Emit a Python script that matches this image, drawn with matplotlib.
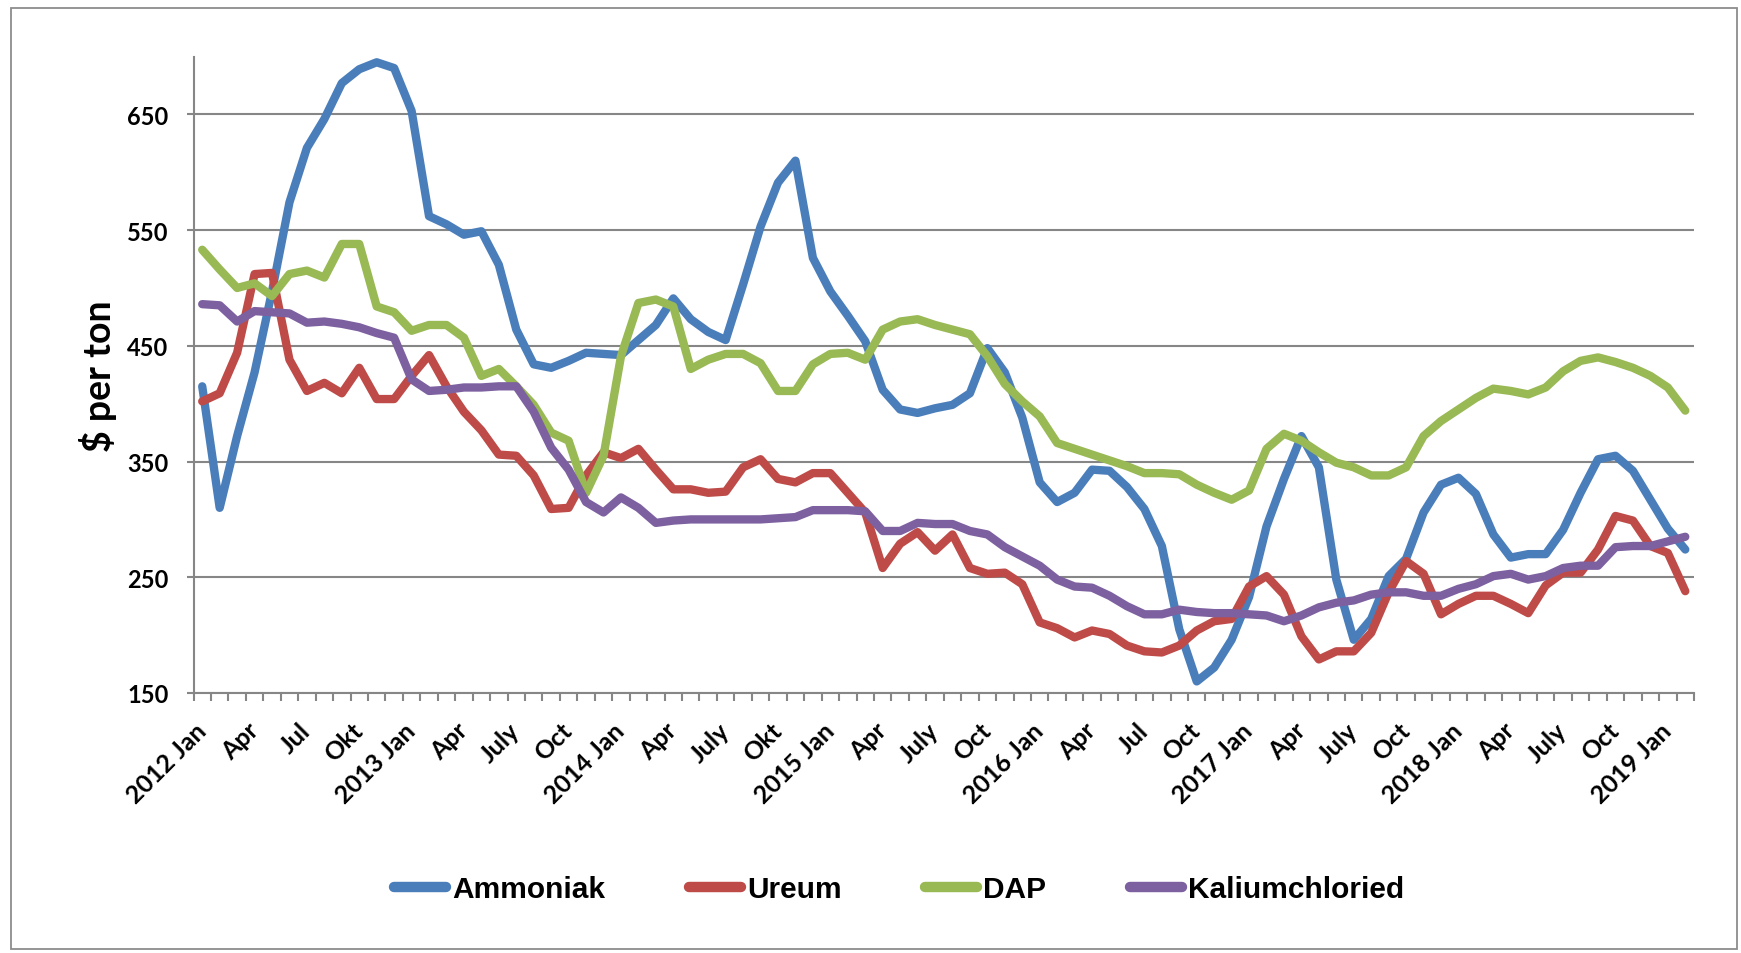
import matplotlib
matplotlib.use("Agg")
import matplotlib.pyplot as plt
from matplotlib.patches import Rectangle
import numpy as np

# monthly data, 2012 Jan .. 2019 Feb (86 months)
ammoniak = [415, 310, 372, 427, 497, 574, 621, 646, 677, 689, 695, 690, 653, 562, 555, 546, 549, 520,
            464, 434, 431, 437, 444, 443, 442, 455, 468, 491, 473, 462, 455, 503, 553, 591, 610, 526,
            497, 476, 454, 412, 395, 392, 396, 399, 409, 448, 427, 388, 332, 315, 323, 343, 342, 328,
            309, 277, 205, 160, 172, 196, 233, 294, 335, 372, 345, 248, 196, 214, 251, 266, 306, 330,
            336, 322, 287, 267, 270, 270, 291, 323, 352, 355, 342, 317, 292, 274]
ureum = [402, 409, 444, 512, 513, 438, 411, 418, 409, 431, 404, 404, 424, 442, 415, 393, 377, 356,
         355, 338, 309, 310, 338, 358, 353, 361, 343, 326, 326, 323, 324, 345, 352, 335, 332, 340,
         340, 323, 306, 258, 279, 289, 273, 287, 258, 253, 254, 244, 211, 206, 198, 204, 201, 191,
         186, 185, 191, 204, 212, 214, 242, 251, 235, 199, 179, 186, 186, 202, 237, 264, 253, 218,
         227, 234, 234, 227, 219, 243, 254, 254, 274, 303, 299, 277, 271, 238]
dap = [533, 516, 500, 504, 493, 512, 515, 509, 538, 538, 484, 479, 463, 468, 468, 457, 424, 430,
       415, 399, 375, 368, 323, 355, 441, 487, 490, 484, 430, 438, 443, 443, 435, 411, 411, 434,
       443, 444, 438, 464, 471, 473, 468, 464, 460, 441, 417, 402, 389, 366, 361, 356, 351, 346,
       340, 340, 339, 330, 323, 317, 325, 361, 374, 368, 358, 349, 345, 338, 338, 345, 372, 385,
       395, 405, 413, 411, 408, 414, 428, 437, 440, 436, 431, 424, 414, 394]
kalium = [486, 485, 471, 480, 479, 478, 470, 471, 469, 466, 461, 457, 421, 411, 412, 414, 414, 415,
          415, 393, 362, 343, 315, 306, 319, 310, 297, 299, 300, 300, 300, 300, 300, 301, 302, 308,
          308, 308, 307, 290, 290, 297, 296, 296, 290, 287, 276, 268, 260, 248, 242, 241, 234, 225,
          218, 218, 222, 220, 219, 219, 218, 217, 212, 217, 224, 228, 230, 235, 237, 237, 234, 234,
          240, 244, 251, 253, 248, 251, 258, 260, 260, 276, 277, 277, 281, 285]

series_names = ["Ammoniak", "Ureum", "DAP", "Kaliumchloried"]
series_colors = ["#4A7EBB", "#BE4B48", "#98B954", "#7D60A0"]

tick_labels = ["2012 Jan", "Apr", "Jul", "Okt", "2013 Jan", "Apr", "July", "Oct",
               "2014 Jan", "Apr", "July", "Okt", "2015 Jan", "Apr", "July", "Oct",
               "2016 Jan", "Apr", "Jul", "Oct", "2017 Jan", "Apr", "July", "Oct",
               "2018 Jan", "Apr", "July", "Oct", "2019 Jan"]
y_ticks = [150, 250, 350, 450, 550, 650]

W, H = 1741, 954
fig = plt.figure(figsize=(W / 100, H / 100), dpi=100)
fig.patch.set_facecolor("white")

# outer chart frame
fig.patches.append(Rectangle((11 / W, 4 / H), (1737 - 11) / W, (945 - 4) / H,
                             transform=fig.transFigure, fill=False,
                             edgecolor="#8c8c8c", linewidth=1.3, zorder=0))

left, right = 193.5 / W, 1694 / W
bottom, top = 1 - 694 / H, 1 - 57.5 / H
ax = fig.add_axes([left, bottom, right - left, top - bottom])

n = len(ammoniak)
x = np.arange(n)
for vals, name, col in zip([ammoniak, ureum, dap, kalium], series_names, series_colors):
    ax.plot(x, vals, color=col, lw=6.0, label=name, solid_capstyle="round",
            solid_joinstyle="round", zorder=3)

ax.set_xlim(-0.5, n - 0.5)
ax.set_ylim(150, 700)

grid_col = "#868686"
ax.set_yticks(y_ticks)
ax.yaxis.grid(True, color=grid_col, lw=1.5, zorder=1)
ax.set_axisbelow(True)
for s in ["top", "right"]:
    ax.spines[s].set_visible(False)
for s in ["left", "bottom"]:
    ax.spines[s].set_color(grid_col)
    ax.spines[s].set_linewidth(1.5)
    ax.spines[s].set_zorder(2)

ax.tick_params(axis="y", length=5, width=1.5, color=grid_col, pad=13)
ax.set_yticklabels([str(v) for v in y_ticks], fontsize=17, fontweight="bold",
                   family=["Lato", "DejaVu Sans"])

# category boundary tick marks
ax.set_xticks(np.arange(-0.5, n, 1.0), minor=True)
ax.tick_params(axis="x", which="minor", length=6, width=1.5, color=grid_col)
ax.set_xticks(np.arange(0, 3 * len(tick_labels), 3))
ax.set_xticklabels(tick_labels, rotation=45, ha="right", va="center",
                   rotation_mode="anchor", fontsize=18, fontweight="bold",
                   family=["Lato", "DejaVu Sans"])
ax.tick_params(axis="x", which="major", length=0, pad=24)

fig.text(98 / W, 1 - 376 / H, "$ per ton", rotation=90, ha="center", va="center",
         fontsize=27, fontweight="bold", family=["Lato", "DejaVu Sans"])

leg = fig.legend(loc="center", bbox_to_anchor=(899 / W, 1 - 890 / H), ncol=4,
                 frameon=False, handlelength=1.75, handletextpad=0.2,
                 columnspacing=2.8,
                 prop={"family": ["Liberation Sans", "DejaVu Sans"],
                       "weight": "bold", "size": 21.5})
for lh in leg.get_lines():
    lh.set_linewidth(7.5)
    lh.set_solid_capstyle("round")

fig.savefig("out.png", dpi=100, facecolor="white")
